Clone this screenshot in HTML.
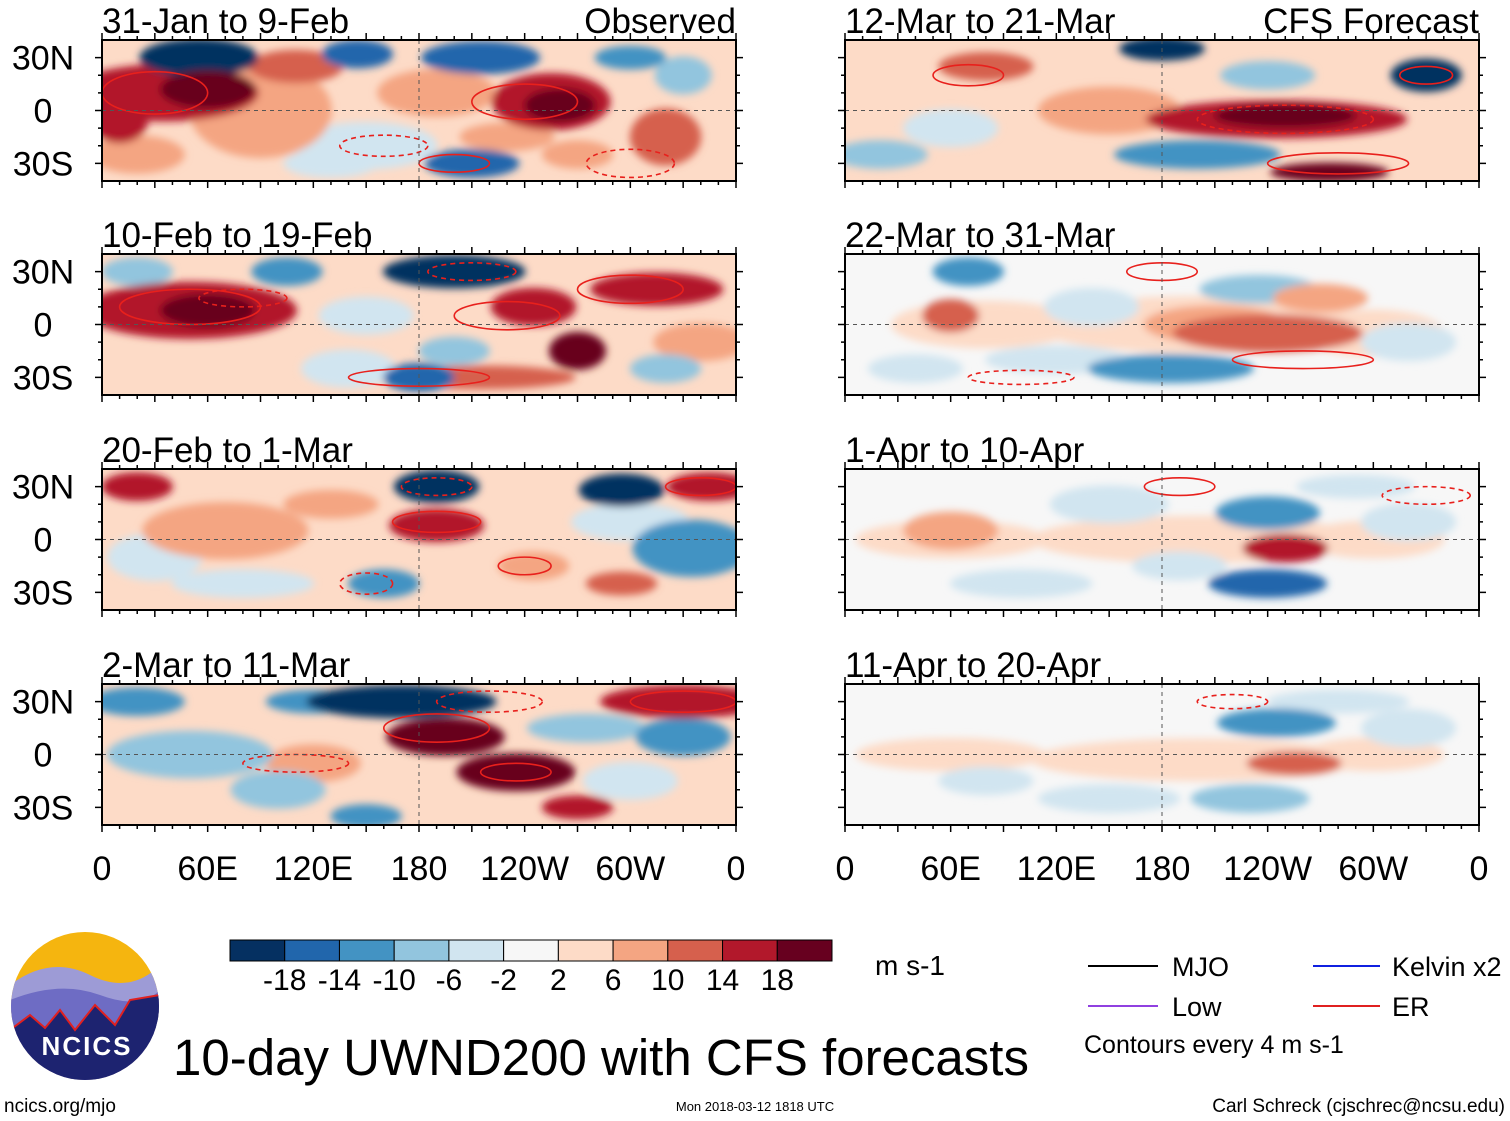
<!DOCTYPE html>
<html><head><meta charset="utf-8"><style>
body{margin:0;background:#fff;font-family:"Liberation Sans",sans-serif}
svg{display:block}
</style></head><body>
<svg id="chart" width="1510" height="1121" viewBox="0 0 1510 1121" font-family="Liberation Sans, sans-serif">
<defs>
<filter id="blur" x="-50%" y="-50%" width="200%" height="200%"><feGaussianBlur stdDeviation="4"/></filter>
</defs>
</svg>
<script>
const levelColors=["#053061","#2166ac","#4393c3","#92c5de","#d1e5f0","#f7f7f7","#fddbc7","#f4a582","#d6604d","#b2182b","#67001f"];
const levelLabels=["-18","-14","-10","-6","-2","2","6","10","14","18"];
const lonTicks=["0","60E","120E","180","120W","60W","0"];
const latTicks=["30N","0","30S"];
const panelTitles=["31-Jan to 9-Feb","10-Feb to 19-Feb","20-Feb to 1-Mar","2-Mar to 11-Mar","12-Mar to 21-Mar","22-Mar to 31-Mar","1-Apr to 10-Apr","11-Apr to 20-Apr"];
// blobs: [lon, lat, radius-lon, radius-lat, value m/s]; first entry = panel background value
const blobsP1=[[180,0,180,40,4],[90,0,30,20,8],[190,10,25,10,6],[20,-25,20,8,8],[150,-20,30,10,-4],[130,-30,20,6,-6],[230,-15,20,6,6],[35,10,40,12,16],[320,-15,15,12,10],[110,25,20,7,12],[55,30,25,8,-20],[60,12,20,8,20],[10,-5,12,10,16],[145,32,15,6,-16],[215,30,25,7,-16],[255,5,25,12,16],[260,3,15,7,22],[210,-30,20,6,-16],[300,30,15,5,-12],[330,20,12,8,-8],[270,-25,15,6,8]];
const blobsP2=[[180,0,180,40,4],[140,-25,20,8,-4],[20,30,15,6,-8],[320,-25,15,6,-8],[200,-15,15,6,-8],[50,8,45,12,14],[105,30,15,6,-12],[245,10,18,8,14],[315,20,28,7,14],[215,-30,40,5,12],[60,8,20,7,22],[200,30,30,7,-20],[270,-15,12,8,20],[180,-30,15,6,-18],[150,5,20,8,-6],[340,-10,20,8,6]];
const blobsP3=[[180,0,180,40,4],[80,-25,30,6,-4],[300,10,25,8,-6],[70,5,35,12,8],[245,-15,15,6,8],[335,-5,25,12,-12],[160,-25,15,6,-12],[295,-25,15,5,12],[20,30,15,6,14],[345,30,18,6,14],[190,8,20,7,16],[190,30,18,7,-20],[295,28,18,7,-20],[130,20,20,6,6],[30,-10,20,10,-6]];
const blobsP4=[[180,0,180,40,3],[100,-20,20,8,-8],[275,15,25,6,-10],[50,0,35,10,-10],[20,30,20,6,-12],[120,30,20,5,-14],[330,10,20,8,-14],[150,-35,15,5,-14],[270,-30,15,5,14],[330,30,35,7,16],[235,-10,25,8,18],[170,30,40,7,-20],[195,10,25,8,20],[120,-5,20,8,6],[300,-15,20,8,-6]];
const blobsR1=[[180,0,180,40,3],[150,0,30,10,6],[240,20,20,6,-8],[20,-25,20,6,-8],[80,25,20,6,10],[200,-25,35,6,-14],[245,-5,55,8,16],[275,-35,25,4,18],[180,35,18,5,-20],[250,-3,30,5,20],[330,20,15,7,-20],[60,-10,20,8,-4]];
const blobsR2=[[180,0,180,40,0],[200,0,70,12,4],[80,0,40,10,4],[300,-5,30,10,4],[210,0,30,8,6],[40,-25,20,6,-5],[140,10,20,8,-6],[235,20,25,6,-8],[270,15,20,6,8],[60,5,12,7,12],[240,-5,40,8,12],[70,30,15,6,-12],[185,-25,35,6,-12],[320,-10,20,8,-4],[120,-20,30,6,-4]];
const blobsR3=[[180,0,180,40,0],[200,0,70,10,4],[60,0,40,8,4],[300,0,30,8,4],[60,5,20,8,6],[150,20,25,8,-5],[190,-15,20,6,-5],[320,10,20,8,-6],[240,15,22,7,-12],[250,-5,18,6,14],[240,-25,25,6,-16],[100,-25,30,6,-4],[290,30,25,5,-4]];
const blobsR4=[[180,0,180,40,0],[200,-3,70,9,4],[60,0,40,7,4],[300,0,30,7,4],[80,-15,20,6,-5],[320,15,20,8,-5],[230,-25,25,6,-10],[255,-5,20,5,12],[245,18,25,6,-14],[150,-25,30,6,-4],[280,30,30,5,-4]];
// contours: [lon, lat, radius-lon, radius-lat, dashed(1/0)]
const contP1=[[30,10,30,12,0],[240,5,30,10,0],[160,-20,25,6,1],[200,-30,20,5,0],[300,-30,25,8,1]];
const contP2=[[50,10,40,10,0],[230,5,30,8,0],[300,20,30,8,0],[210,30,25,5,1],[180,-30,40,5,0],[80,15,25,5,1]];
const contP3=[[190,10,25,6,0],[340,30,20,5,0],[190,30,20,5,1],[240,-15,15,5,0],[150,-25,15,6,1]];
const contP4=[[190,15,30,8,0],[330,30,30,6,0],[220,30,30,6,1],[235,-10,20,5,0],[110,-5,30,5,1]];
const contR1=[[250,-5,50,8,1],[330,20,15,5,0],[280,-30,40,6,0],[70,20,20,6,0]];
const contR2=[[180,30,20,5,0],[260,-20,40,5,0],[100,-30,30,4,1]];
const contR3=[[190,30,20,5,0],[330,25,25,5,1]];
const contR4=[[220,30,20,4,1]];
const allBlobs=[blobsP1,blobsP2,blobsP3,blobsP4,blobsR1,blobsR2,blobsR3,blobsR4];
const allConts=[contP1,contP2,contP3,contP4,contR1,contR2,contR3,contR4];

const svg=document.getElementById('chart');
const NS="http://www.w3.org/2000/svg";
function mk(tag,attrs,parent){const e=document.createElementNS(NS,tag);for(const k in attrs)e.setAttribute(k,attrs[k]);(parent||svg).appendChild(e);return e;}
function colorFor(v){let i=Math.floor((v+22)/4);i=Math.max(0,Math.min(10,i));return levelColors[i];}

const colX=[102,845], pw=634;
const rowY=[40,254,469,684], ph=141;
const grow=1.35;
for(let p=0;p<8;p++){
  const col=p<4?0:1,row=p%4;
  const x0=colX[col],y0=rowY[row];
  const xs=lon=>x0+lon/360*pw;
  const ys=lat=>y0+ph/2-lat/40*(ph/2);
  const g=mk('g',{});
  
  
  const cp=mk('clipPath',{id:'cp'+p},g);
  mk('rect',{x:x0,y:y0,width:pw,height:ph},cp);
  const inner=mk('g',{'clip-path':'url(#cp'+p+')'},g);
  const blobs=allBlobs[p];
  mk('rect',{x:x0,y:y0,width:pw,height:ph,fill:colorFor(blobs[0][4])},inner);
  const bl=mk('g',{filter:'url(#blur)'},inner);
  const sorted=blobs.slice(1).sort((a,b)=>Math.abs(a[4])-Math.abs(b[4]));
  sorted.forEach(b=>{
    const e=mk('ellipse',{cx:xs(b[0]),cy:ys(b[1]),rx:grow*b[2]/360*pw,ry:grow*b[3]/40*(ph/2),fill:colorFor(b[4])},bl);
    
    
  });
  allConts[p].forEach(c=>{
    const e=mk('ellipse',{cx:xs(c[0]),cy:ys(c[1]),rx:c[2]/360*pw,ry:c[3]/40*(ph/2),fill:'none',stroke:'#e8201c','stroke-width':1.6,'stroke-dasharray':c[4]?'5,4':'none'},inner);
    
    
  });
  mk('line',{x1:x0,x2:x0+pw,y1:ys(0),y2:ys(0),stroke:'#555','stroke-dasharray':'4,4','stroke-width':1},inner);
  mk('line',{x1:xs(180),x2:xs(180),y1:y0,y2:y0+ph,stroke:'#555','stroke-dasharray':'4,4','stroke-width':1},inner);
  mk('rect',{x:x0,y:y0,width:pw,height:ph,fill:'none',stroke:'#000','stroke-width':2},g);
  for(let l=0;l<=360;l+=10){const t=l%30==0?7:4;
    mk('line',{x1:xs(l),x2:xs(l),y1:y0,y2:y0-t,stroke:'#000','stroke-width':1.5},g);
    mk('line',{x1:xs(l),x2:xs(l),y1:y0+ph,y2:y0+ph+t,stroke:'#000','stroke-width':1.5},g);}
  for(let la=-30;la<=30;la+=10){const t=la%30==0?7:4;
    mk('line',{x1:x0,x2:x0-t,y1:ys(la),y2:ys(la),stroke:'#000','stroke-width':1.5},g);
    mk('line',{x1:x0+pw,x2:x0+pw+t,y1:ys(la),y2:ys(la),stroke:'#000','stroke-width':1.5},g);}
  const tt=mk('text',{x:x0,y:y0-7,'font-size':35,fill:'#000'},g);tt.textContent=panelTitles[p];
  
  
  if(row==0){const r=mk('text',{x:x0+pw,y:y0-7,'font-size':35,'text-anchor':'end'},g);r.textContent=col==0?'Observed':'CFS Forecast';
    
    }
  if(col==0){[30,0,-30].forEach((la,i)=>{const t=mk('text',{x:43,y:ys(la)+12,'font-size':34,'text-anchor':'middle'},g);t.textContent=latTicks[i];
    
    });}
  if(row==3){lonTicks.forEach((s,i)=>{const t=mk('text',{x:xs(i*60),y:880,'font-size':34,'text-anchor':'middle'},g);t.textContent=s;
    
    });}
}
// colorbar
const cb=mk('g',{});


const cbx=230,cbw=602/11;
levelColors.forEach((c,i)=>mk('rect',{x:cbx+i*cbw,y:940,width:cbw,height:21,fill:c,stroke:'#000','stroke-width':1},cb));
levelLabels.forEach((s,i)=>{const t=mk('text',{x:cbx+(i+1)*cbw,y:990,'font-size':30,'text-anchor':'middle'},cb);t.textContent=s;});
const un=mk('text',{x:875,y:975,'font-size':28},cb);un.textContent='m s-1';
</script>
<div style="position:absolute;left:0;top:0;width:1510px;height:1121px;pointer-events:none">
<svg width="1510" height="1121" style="position:absolute;left:0;top:0">
<g>
<clipPath id="lc"><circle cx="85" cy="1006" r="74"/></clipPath>
<g clip-path="url(#lc)">
<rect x="10" y="930" width="150" height="152" fill="#f5b50f"/>
<path d="M10 985 Q50 955 90 975 T160 965 L160 1082 L10 1082Z" fill="#9d9bd6"/>
<path d="M10 1000 Q60 980 100 995 T160 990 L160 1082 L10 1082Z" fill="#6e6cc4"/>
<path d="M10 1030 L30 1015 L45 1028 L60 1010 L75 1030 L95 1005 L115 1025 L130 1000 L160 995 L160 1082 L10 1082Z" fill="#1d2370" stroke="#e02020" stroke-width="2"/>
</g>
<text x="87" y="1055" font-size="26" font-weight="bold" fill="#fff" text-anchor="middle" letter-spacing="2">NCICS</text>
</g>
<text x="173" y="1075" font-size="51">10-day UWND200 with CFS forecasts</text>
<g>
<line x1="1088" y1="966" x2="1158" y2="966" stroke="#000" stroke-width="2"/><text x="1172" y="976" font-size="27">MJO</text>
<line x1="1313" y1="966" x2="1380" y2="966" stroke="#1020e0" stroke-width="2"/><text x="1392" y="976" font-size="27">Kelvin x2</text>
<line x1="1088" y1="1006" x2="1158" y2="1006" stroke="#9040e0" stroke-width="2"/><text x="1172" y="1016" font-size="27">Low</text>
<line x1="1313" y1="1006" x2="1380" y2="1006" stroke="#e02020" stroke-width="2"/><text x="1392" y="1016" font-size="27">ER</text>
<text x="1084" y="1053" font-size="25">Contours every 4 m s-1</text>
</g>
<text x="4" y="1112" font-size="19">ncics.org/mjo</text>
<text x="755" y="1111" font-size="13" text-anchor="middle">Mon 2018-03-12 1818 UTC</text>
<text x="1505" y="1112" font-size="19" text-anchor="end">Carl Schreck (cjschrec@ncsu.edu)</text>
</svg>
</div>
</body></html>
